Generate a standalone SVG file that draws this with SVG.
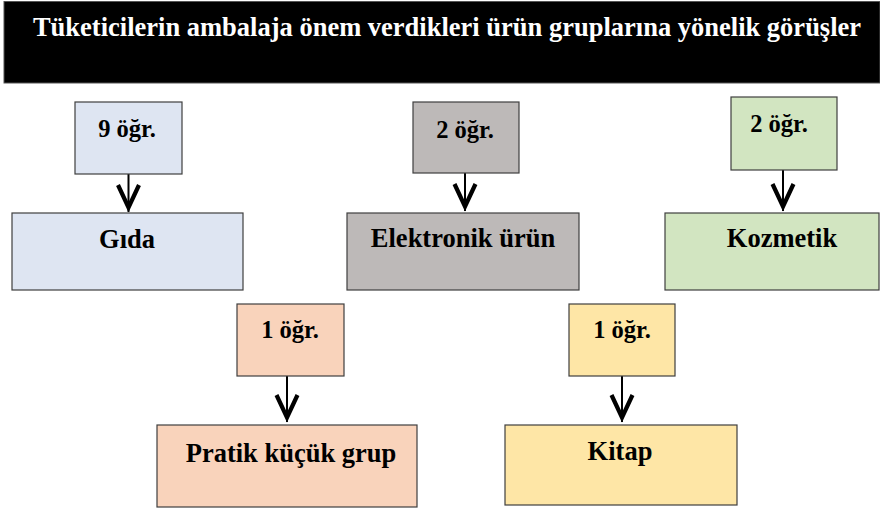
<svg xmlns="http://www.w3.org/2000/svg" width="880" height="511" viewBox="0 0 880 511">
<style>
  .box { stroke: #3f3f3f; stroke-width: 1.2; }
  .t { font-family: "Liberation Serif", "Times New Roman", serif; font-weight: bold; text-anchor: middle; fill: #000; }
  .cnt { font-size: 24.5px; }
  .cat { font-size: 26.5px; }
  .title { font-size: 26.5px; fill: #fff; }
  .conn { stroke: #000; stroke-width: 2; fill: none; marker-end: url(#ah); }
</style>
<defs>
  <marker id="ah" markerUnits="userSpaceOnUse" markerWidth="34" markerHeight="34" viewBox="-30 -17 34 34" refX="0" refY="0" orient="auto">
    <path d="M-27,-10.5 L-4.5,0 L-27,10.5" fill="none" stroke="#000" stroke-width="4.2"/>
  </marker>
</defs>
<rect width="880" height="511" fill="#fff"/>
<g id="title">
  <rect x="4" y="1.5" width="876" height="81.5" fill="#000" stroke="#555" stroke-width="1"/>
  <text class="t title" x="447" y="36">Tüketicilerin ambalaja önem verdikleri ürün gruplarına yönelik görüşler</text>
</g>
<g id="connectors">
  <line class="conn" x1="128.5" y1="174" x2="128.5" y2="212"/>
  <line class="conn" x1="465" y1="173" x2="465" y2="211"/>
  <line class="conn" x1="783" y1="170" x2="783" y2="211"/>
  <line class="conn" x1="287" y1="376" x2="287" y2="422"/>
  <line class="conn" x1="622" y1="376" x2="622" y2="422"/>
</g>
<g id="n-gida-count">
  <rect class="box" x="75" y="102" width="107" height="72" fill="#DEE5F2"/>
  <text class="t cnt" x="127" y="137">9 öğr.</text>
</g>
<g id="n-gida">
  <rect class="box" x="12" y="213" width="231" height="77" fill="#DEE5F2"/>
  <text class="t cat" x="127" y="248">Gıda</text>
</g>
<g id="n-elektronik-count">
  <rect class="box" x="413" y="102" width="106" height="71" fill="#BDB9B8"/>
  <text class="t cnt" x="465" y="138">2 öğr.</text>
</g>
<g id="n-elektronik">
  <rect class="box" x="347" y="213" width="232" height="77" fill="#BDB9B8"/>
  <text class="t cat" x="463" y="247">Elektronik ürün</text>
</g>
<g id="n-kozmetik-count">
  <rect class="box" x="731" y="97" width="106" height="73" fill="#D2E5C1"/>
  <text class="t cnt" x="779" y="132">2 öğr.</text>
</g>
<g id="n-kozmetik">
  <rect class="box" x="665" y="213" width="214" height="77" fill="#D2E5C1"/>
  <text class="t cat" x="782" y="247">Kozmetik</text>
</g>
<g id="n-pratik-count">
  <rect class="box" x="237" y="304" width="107" height="72" fill="#F9D3BB"/>
  <text class="t cnt" x="290" y="338">1 öğr.</text>
</g>
<g id="n-pratik">
  <rect class="box" x="157" y="425" width="260" height="82" fill="#F9D3BB"/>
  <text class="t cat" x="291" y="462">Pratik küçük grup</text>
</g>
<g id="n-kitap-count">
  <rect class="box" x="569" y="304" width="106" height="72" fill="#FEE6A6"/>
  <text class="t cnt" x="622" y="338">1 öğr.</text>
</g>
<g id="n-kitap">
  <rect class="box" x="505" y="425" width="232" height="80" fill="#FEE6A6"/>
  <text class="t cat" x="620" y="460">Kitap</text>
</g>
</svg>
